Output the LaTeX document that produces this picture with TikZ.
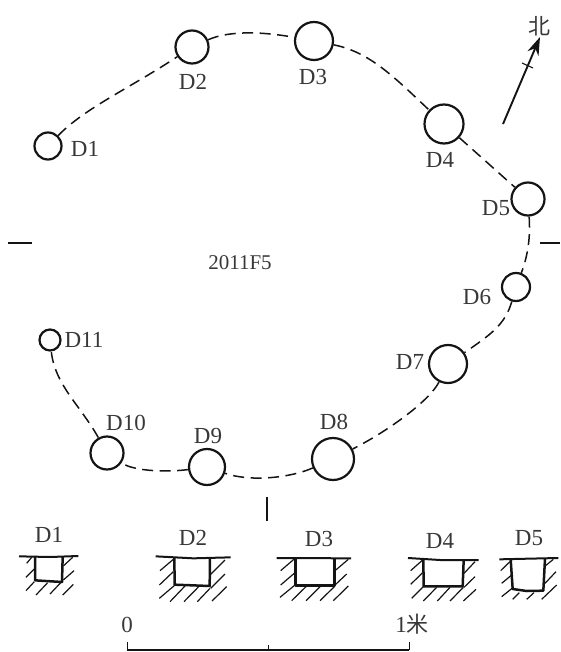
\documentclass[tikz,border=0pt]{standalone}
\usepackage{fontspec}
\setmainfont{Liberation Serif}
\newfontfamily\cjk{Noto Sans CJK SC}
\usetikzlibrary{arrows.meta}
\definecolor{ink}{gray}{0.08}
\definecolor{txt}{gray}{0.22}
\tikzset{
  x=1pt,y=-1pt,
  hole/.style={circle,draw=ink,line width=2.2pt,inner sep=0pt,fill=white},
  lab/.style={font=\fontsize{23}{23}\selectfont,text=txt,inner sep=0pt},
  link/.style={draw=ink,line width=1.5pt,dash pattern=on 11pt off 6.5pt},
  solidline/.style={draw=ink,line width=1.9pt},
  ground/.style={draw=ink,line width=2pt},
  pit/.style={draw=ink,line width=2.5pt,line join=round},
  hatchline/.style={draw=ink,line width=1.2pt},
  scalebar/.style={draw=ink,line width=1.9pt}
}
\newcommand{\hatchset}[1]{\foreach \a/\b/\c/\d in {#1}{\draw[hatchline] (\a/3,\b/3) -- (\c/3,\d/3);}}
\begin{document}
\begin{tikzpicture}
\useasboundingbox (0,0) rectangle (560,652);
% holes
\node[hole,minimum size=27pt] (d1) at (48,146) {};
\node[hole,minimum size=33pt] (d2) at (192,47) {};
\node[hole,minimum size=38pt] (d3) at (314,41) {};
\node[hole,minimum size=39pt] (d4) at (444,124) {};
\node[hole,minimum size=33pt] (d5) at (528,199) {};
\node[hole,minimum size=28pt] (d6) at (516,287) {};
\node[hole,minimum size=38pt] (d7) at (448,364) {};
\node[hole,minimum size=42pt] (d8) at (333,459) {};
\node[hole,minimum size=36pt] (d9) at (207,467) {};
\node[hole,minimum size=33pt] (d10) at (107,453) {};
\node[hole,minimum size=21pt] (d11) at (50,340) {};
% connectors
\draw[link] (d1) .. controls (85,108) and (130,88) .. (d2);
\draw[link] (d2) .. controls (230,30) and (265,32) .. (d3);
\draw[link] (d3) .. controls (370,52) and (395,78) .. (d4);
\draw[link] (d4) -- (d5);
\draw[link] (d5) .. controls (530,230) and (530,250) .. (d6);
\draw[link] (d6) .. controls (505,325) and (490,335) .. (d7);
\draw[link] (d7) .. controls (430,400) and (390,430) .. (d8);
\draw[link] (d8) .. controls (290,478) and (250,482) .. (d9);
\draw[link] (d9) .. controls (170,472) and (135,472) .. (d10);
\draw[link] (d10) .. controls (80,405) and (55,385) .. (d11);
% labels
\node[lab] (l1) at (85,149) {D1};
\node[lab] (l2) at (193,82) {D2};
\node[lab] (l3) at (313,77) {D3};
\node[lab] (l4) at (440,160) {D4};
\node[lab] (l5) at (496,208) {D5};
\node[lab] (l6) at (477,297) {D6};
\node[lab] (l7) at (410,362) {D7};
\node[lab] (l8) at (334,422) {D8};
\node[lab] (l9) at (208,436) {D9};
\node[lab] (l10) at (126,423) {D10};
\node[lab] (l11) at (84,340) {D11};
\node[lab,font=\fontsize{21}{21}\selectfont] (title) at (240,263) {2011F5};
% cross marks
\coordinate (wa) at (8,243); \coordinate (wb) at (32,243);
\coordinate (ea) at (540,243); \coordinate (eb) at (560,243);
\coordinate (sa) at (267,497); \coordinate (sb) at (267,521);
\draw[solidline] (wa) -- (wb);
\draw[solidline] (ea) -- (eb);
\draw[solidline] (sa) -- (sb);
% north arrow
\node[lab,font=\cjk\fontsize{22}{22}\selectfont] (north) at (539,26) {北};
\coordinate (ntail) at (503,124);
\coordinate (nhead) at (540,37);
\coordinate (ta) at (522,63); \coordinate (tb) at (533,68);
\draw[solidline,-{Stealth[length=18pt,width=12pt]}] (ntail) -- (nhead);
\draw[draw=ink,line width=1.1pt] (ta) -- (tb);
% section labels
\node[lab] (s1) at (49,535) {D1};
\node[lab] (s2) at (193,538) {D2};
\node[lab] (s3) at (319,539) {D3};
\node[lab] (s4) at (440,541) {D4};
\node[lab] (s5) at (529,538) {D5};
% sections D1, D2
\begin{scope}[shift={(0,500)}]
\draw[ground] (57/3,169/3) -- (150/3,171/3) -- (235/3,168/3);
\draw[ground] (467/3,169/3) -- (580/3,175/3) -- (692/3,172/3);
\draw[pit] (105/3,171/3) -- (105/3,241/3) -- (186/3,246/3) -- (188/3,171/3);
\draw[pit] (523/3,171/3) -- (524/3,254/3) -- (629/3,258/3) -- (630/3,175/3);
\hatchset{80/190/95/172,78/232/103/207,78/272/103/245,108/285/143/248,150/282/185/245,188/285/220/253,190/198/218/172,190/240/222/212,
480/212/520/178,478/255/520/215,478/295/525/255,510/305/555/258,552/305/598/258,592/305/630/265,630/225/675/180,632/265/675/222,636/303/680/260}
\end{scope}
% sections D3, D4, D5
\begin{scope}[shift={(280,500)}]
\draw[ground] (-10/3,174/3) -- (213/3,175/3);
\draw[ground] (384/3,174/3) -- (480/3,180/3) -- (596/3,180/3);
\draw[ground] (658/3,178/3) -- (835/3,174/3);
\draw[pit] (46/3,175/3) -- (46/3,257/3) -- (163/3,257/3) -- (163/3,176/3);
\draw[pit] (430/3,177/3) -- (431/3,259/3) -- (548/3,259/3) -- (551/3,181/3);
\draw[pit] (692/3,178/3) -- (698/3,267/3) -- (740/3,273/3) -- (790/3,272/3) -- (795/3,176/3);
\hatchset{2/212/45/175,2/255/45/218,0/292/45/255,35/302/80/258,78/302/122/258,120/302/165/258,165/212/205/178,165/255/200/222,160/302/205/258,
392/212/428/180,392/253/428/218,395/295/432/258,430/303/470/262,472/303/510/262,510/303/550/262,552/220/585/185,552/262/585/230,550/303/588/268,
662/212/695/180,665/250/695/225,665/290/700/262,698/298/718/278,740/298/762/278,793/200/820/178,795/250/828/215,785/298/830/255}
\end{scope}
% scale
\node[lab] (zero) at (127,625) {0};
\node[lab] (one) at (412,624) {1{\cjk\fontsize{22}{22}\selectfont 米}};
\coordinate (bl) at (127,642); \coordinate (blb) at (127,650);
\coordinate (bm) at (268,645); \coordinate (bmb) at (268,650);
\coordinate (br) at (409,642); \coordinate (brb) at (409,650);
\draw[scalebar] (blb) -- (brb);
\draw[draw=ink,line width=1pt] (bl) -- (blb);
\draw[draw=ink,line width=1pt] (br) -- (brb);
\draw[draw=ink,line width=0.8pt] (bm) -- (bmb);
\end{tikzpicture}
\end{document}
